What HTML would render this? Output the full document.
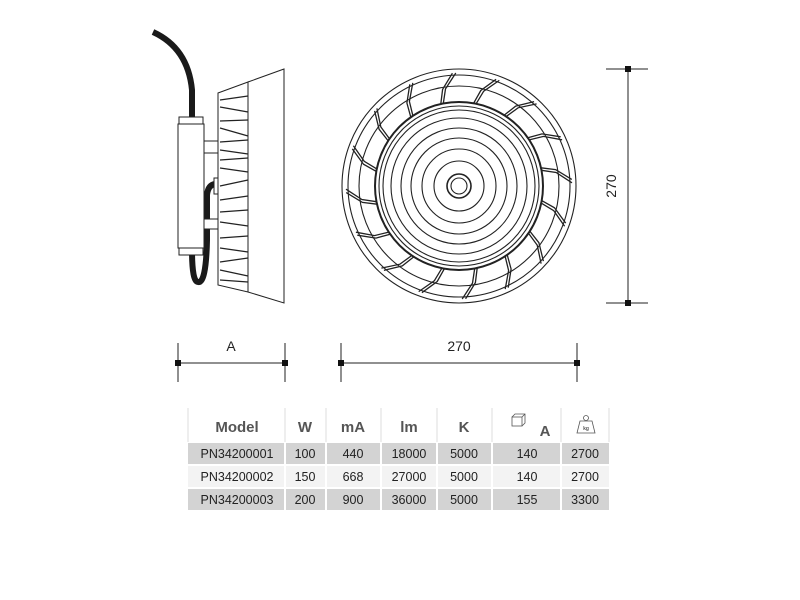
<!DOCTYPE html>
<html><head><meta charset="utf-8"><style>
body{margin:0;background:#fff;width:800px;height:600px;overflow:hidden;font-family:"Liberation Sans",sans-serif}
svg{position:absolute;left:0;top:0}
</style></head><body>
<svg width="800" height="600" viewBox="0 0 800 600" xmlns="http://www.w3.org/2000/svg">
<g fill="none" stroke="#222" stroke-width="1">
<!-- side view -->
<path d="M153 32 Q188 48 192 90 L192 118" stroke="#1a1a1a" stroke-width="6" fill="none"/>
<path d="M192 250 Q192 282 198 282 Q206 284 207 240 L207 195 Q208 185 215 184" stroke="#1a1a1a" stroke-width="6" fill="none"/>
<rect x="179" y="117" width="24" height="7" fill="#fff"/>
<rect x="178" y="124" width="26" height="124" fill="#fff"/>
<rect x="179" y="248" width="24" height="7" fill="#fff"/>
<rect x="204" y="141" width="15" height="12" fill="#fff"/>
<rect x="204" y="219" width="15" height="10" fill="#fff"/>
<rect x="214" y="178" width="6" height="16" fill="#fff"/>
<path d="M218 93 L248 82 L248 292 L218 285 Z" fill="#fff"/>
<path d="M248 82 L284 69 L284 303 L248 292 Z" fill="#fff"/>
<g stroke-width="1.2">
<path d="M220 100 L248 96 M220 107 L248 112 M220 121 L248 120 M220 128 L248 136 M220 142 L248 140 M220 150 L248 154 M220 160 L248 158 M220 168 L248 172 M220 186 L248 180 M220 200 L248 196 M220 212 L248 210 M220 222 L248 226 M220 238 L248 236 M220 248 L248 252 M220 262 L248 258 M220 270 L248 276 M220 280 L248 282"/>
</g>
</g>
<!-- front view -->
<g fill="none" stroke="#222" stroke-width="1.1">
<circle cx="459" cy="186" r="117"/>
<circle cx="459" cy="186" r="111"/>
<circle cx="459" cy="186" r="100"/>
<circle cx="459" cy="186" r="84" stroke-width="2"/>
<circle cx="459" cy="186" r="80"/>
<circle cx="459" cy="186" r="76"/>
<circle cx="459" cy="186" r="68"/>
<circle cx="459" cy="186" r="58"/>
<circle cx="459" cy="186" r="48"/>
<circle cx="459" cy="186" r="37"/>
<circle cx="459" cy="186" r="25"/>
<circle cx="459" cy="186" r="12" stroke-width="1.6"/>
<circle cx="459" cy="186" r="8"/>
<g id="fins" stroke-width="1.3"></g>
</g>
<!-- dimension lines -->
<g stroke="#222" stroke-width="1">
<line x1="628" y1="69" x2="628" y2="303"/>
<line x1="606" y1="69" x2="648" y2="69"/>
<line x1="606" y1="303" x2="648" y2="303"/>
<line x1="178" y1="363" x2="285" y2="363"/>
<line x1="178" y1="343" x2="178" y2="382"/>
<line x1="285" y1="343" x2="285" y2="382"/>
<line x1="341" y1="363" x2="577" y2="363"/>
<line x1="341" y1="343" x2="341" y2="382"/>
<line x1="577" y1="343" x2="577" y2="382"/>
</g>
<g fill="#111">
<rect x="625" y="66" width="6" height="6"/><rect x="625" y="300" width="6" height="6"/>
<rect x="175" y="360" width="6" height="6"/><rect x="282" y="360" width="6" height="6"/>
<rect x="338" y="360" width="6" height="6"/><rect x="574" y="360" width="6" height="6"/>
</g>
<g font-size="14" fill="#222" text-anchor="middle">
<text x="231" y="351">A</text>
<text x="459" y="351">270</text>
<text x="616" y="186" transform="rotate(-90 616 186)">270</text>
</g>
<!-- table -->
<g>
<rect x="188" y="443" width="421" height="21" fill="#d3d3d3"/>
<rect x="188" y="466" width="421" height="21" fill="#f3f3f3"/>
<rect x="188" y="489" width="421" height="21" fill="#d3d3d3"/>
<g stroke="#fff" stroke-width="2">
<line x1="285" y1="443" x2="285" y2="510"/><line x1="326" y1="443" x2="326" y2="510"/><line x1="381" y1="443" x2="381" y2="510"/><line x1="437" y1="443" x2="437" y2="510"/><line x1="492" y1="443" x2="492" y2="510"/><line x1="561" y1="443" x2="561" y2="510"/>
</g>
<g stroke="#ddd" stroke-width="1">
<line x1="188" y1="408" x2="188" y2="442"/><line x1="285" y1="408" x2="285" y2="442"/><line x1="326" y1="408" x2="326" y2="442"/><line x1="381" y1="408" x2="381" y2="442"/><line x1="437" y1="408" x2="437" y2="442"/><line x1="492" y1="408" x2="492" y2="442"/><line x1="561" y1="408" x2="561" y2="442"/><line x1="609" y1="408" x2="609" y2="442"/>
</g>
<g font-size="15" font-weight="bold" fill="#555" text-anchor="middle">
<text x="237" y="432">Model</text><text x="305" y="432">W</text><text x="353" y="432">mA</text><text x="409" y="432">lm</text><text x="464" y="432">K</text><text x="545" y="436">A</text>
</g>
<g stroke="#555" fill="none" stroke-width="0.8">
<rect x="512" y="417" width="10" height="9"/><path d="M512 417 l3 -3 h10 v9 l-3 3 M522 417 l3 -3"/>
<path d="M577 433 l3 -12 h12 l3 12 z"/><circle cx="586" cy="418" r="2.5"/>
</g>
<text x="586" y="430" font-size="5" font-weight="bold" fill="#555" text-anchor="middle">kg</text>
<g font-size="12.5" fill="#222" text-anchor="middle">
<text x="237" y="458">PN34200001</text><text x="305" y="458">100</text><text x="353" y="458">440</text><text x="409" y="458">18000</text><text x="464" y="458">5000</text><text x="527" y="458">140</text><text x="585" y="458">2700</text>
<text x="237" y="481">PN34200002</text><text x="305" y="481">150</text><text x="353" y="481">668</text><text x="409" y="481">27000</text><text x="464" y="481">5000</text><text x="527" y="481">140</text><text x="585" y="481">2700</text>
<text x="237" y="504">PN34200003</text><text x="305" y="504">200</text><text x="353" y="504">900</text><text x="409" y="504">36000</text><text x="464" y="504">5000</text><text x="527" y="504">155</text><text x="585" y="504">3300</text>
</g>
</g>
</svg>
<script>
var g=document.getElementById('fins'),s='';
for(var i=0;i<16;i++){var a=(i*22.5-80)*Math.PI/180,b=a+0.16,c=a+0.05;
function p(r,t){return (459+r*Math.cos(t)).toFixed(1)+' '+(186+r*Math.sin(t)).toFixed(1)}
s+='<path d="M'+p(84,a)+' L'+p(98,c)+' L'+p(113,b)+'"/>';
s+='<path d="M'+p(84,a+0.03)+' L'+p(98,c+0.03)+' L'+p(113,b+0.03)+'"/>';}
g.innerHTML=s;
</script>
</body></html>
